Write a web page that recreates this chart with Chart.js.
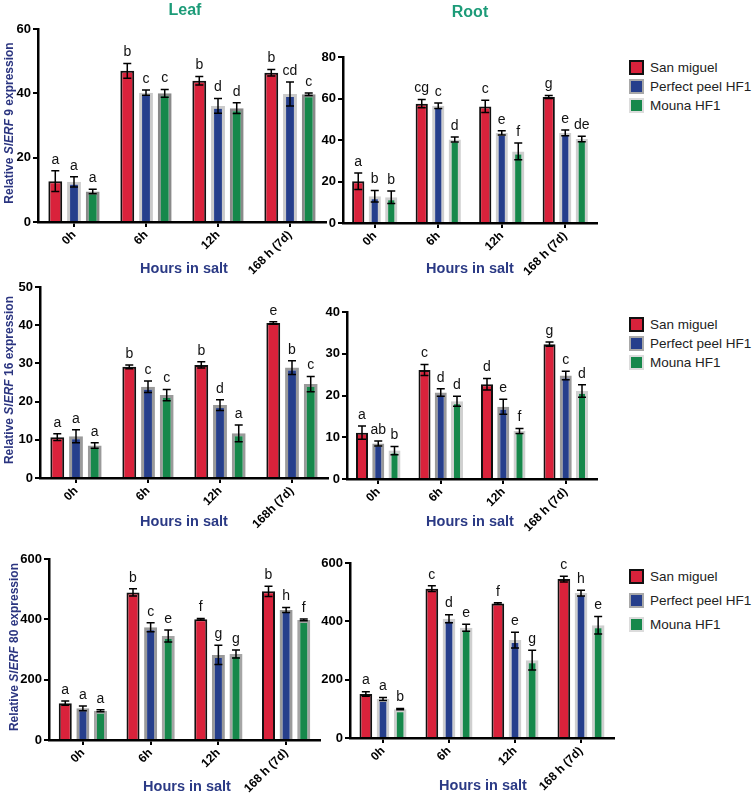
<!DOCTYPE html>
<html>
<head>
<meta charset="utf-8">
<script src="https://cdn.jsdelivr.net/npm/chart.js@4"></script>
<style>
  body { margin: 0; background: #fff; }
  #fig { position: relative; width: 755px; height: 794px; overflow: hidden; font-family: "Liberation Sans", Arial, sans-serif; }
  canvas { position: absolute; }
  .lbl { position: absolute; white-space: nowrap; transform: translate(-50%, -50%); }
  .head { color: #1c9b78; font-weight: bold; font-size: 16px; }
  .xt { color: #2b3a85; font-weight: bold; font-size: 14.5px; }
  .yt { color: #2b3580; font-weight: bold; font-size: 12px; transform: translate(-50%, -50%) rotate(-90deg); }
  .leg { position: absolute; font-size: 13.5px; color: #222; white-space: nowrap; width: 130px; }
  .leg div { display: flex; align-items: center; }
  .leg span.sw { width: 11px; height: 11px; border: 2px solid; margin-right: 6px; display: inline-block; flex: none; }
</style>
</head>
<body>
<div id="fig"></div>
<script>
// categories
const hours = ['0h', '6h', '12h', '168 h (7d)'];
const hoursB = ['0h', '6h', '12h', '168h (7d)'];
const cultivars = ['San miguel', 'Perfect peel HF1', 'Mouna HF1'];
const fills = ['#d9223b', '#263f8c', '#16884b'];

// SlERF 9, leaf  (rows: San miguel, Perfect peel HF1, Mouna HF1)
const erf9Leaf = [[12.7, 47.0, 43.9, 46.4], [12.5, 40.2, 36.1, 39.8], [9.5, 40.0, 35.4, 39.7]];
const erf9LeafErr = [[3.2, 2.3, 1.3, 1.0], [1.6, 0.8, 2.3, 3.7], [0.7, 1.2, 1.7, 0.4]];
const erf9LeafLet = [['a', 'b', 'b', 'b'], ['a', 'c', 'd', 'cd'], ['a', 'c', 'd', 'c']];

// SlERF 9, root
const erf9Root = [[20.1, 57.5, 56.2, 60.7], [12.9, 56.5, 43.4, 43.4], [12.4, 40.2, 34.5, 40.5]];
const erf9RootErr = [[4.0, 2.0, 3.0, 0.7], [2.8, 1.3, 1.0, 1.4], [3.0, 1.2, 4.0, 1.3]];
const erf9RootLet = [['a', 'cg', 'c', 'g'], ['b', 'c', 'e', 'e'], ['b', 'd', 'f', 'de']];

// SlERF 16, leaf
const erf16Leaf = [[10.7, 29.1, 29.6, 40.6], [10.9, 23.9, 19.1, 28.9], [8.5, 21.7, 11.7, 24.6]];
const erf16LeafErr = [[0.9, 0.5, 0.8, 0.3], [1.7, 1.5, 1.4, 1.8], [0.7, 1.5, 2.2, 2.0]];
const erf16LeafLet = [['a', 'b', 'b', 'e'], ['a', 'c', 'd', 'b'], ['a', 'c', 'a', 'c']];

// SlERF 16, root
const erf16Root = [[11.1, 26.1, 22.7, 32.3], [8.5, 20.7, 17.3, 24.8], [6.8, 18.6, 11.5, 21.1]];
const erf16RootErr = [[1.6, 1.3, 1.4, 0.5], [0.6, 0.9, 1.8, 1.0], [1.0, 1.2, 0.6, 1.5]];
const erf16RootLet = [['a', 'c', 'd', 'g'], ['ab', 'd', 'e', 'c'], ['b', 'd', 'f', 'd']];

// SlERF 80, leaf
const erf80Leaf = [[122, 489, 400, 493], [105, 374, 282, 431], [97, 345, 285, 398]];
const erf80LeafErr = [[7, 12, 3, 17], [8, 15, 32, 8], [3, 20, 13, 3]];
const erf80LeafLet = [['a', 'b', 'f', 'b'], ['a', 'c', 'g', 'h'], ['a', 'e', 'g', 'f']];

// SlERF 80, root
const erf80Root = [[151, 512, 461, 545], [134, 409, 336, 497], [99, 378, 267, 387]];
const erf80RootErr = [[8, 10, 3, 10], [5, 14, 27, 10], [2, 12, 34, 30]];
const erf80RootLet = [['a', 'c', 'f', 'c'], ['a', 'd', 'e', 'h'], ['b', 'e', 'g', 'e']];

const panels = [
  { area: [38, 29, 326, 222], max: 60, step: 20, labels: hours, vals: erf9Leaf, errs: erf9LeafErr, lets: erf9LeafLet, edge: ['#111', '#cacaca', '#8a8a8a'] },
  { area: [343, 57, 597, 223], max: 80, step: 20, labels: hours, vals: erf9Root, errs: erf9RootErr, lets: erf9RootLet, edge: ['#111', '#cfcfcf', '#cfcfcf'] },
  { area: [40, 287, 328, 478], max: 50, step: 10, labels: hoursB, vals: erf16Leaf, errs: erf16LeafErr, lets: erf16LeafLet, edge: ['#111', '#9a9a9a', '#9a9a9a'] },
  { area: [347, 312, 597, 479], max: 40, step: 10, labels: hours, vals: erf16Root, errs: erf16RootErr, lets: erf16RootLet, edge: ['#111', '#9a9a9a', '#d0d0d0'] },
  { area: [49, 559, 320, 740], max: 600, step: 200, labels: hours, vals: erf80Leaf, errs: erf80LeafErr, lets: erf80LeafLet, edge: ['#111', '#9a9a9a', '#a5a5a5'] },
  { area: [350, 563, 614, 738], max: 600, step: 200, labels: hours, vals: erf80Root, errs: erf80RootErr, lets: erf80RootLet, edge: ['#111', '#cfcfcf', '#cfcfcf'] },
];

const YW = 40, PT = 12, PR = 8, XH = 60;

// error bars + significance letters
const errorBars = {
  id: 'errorBars',
  afterDatasetsDraw(chart) {
    const ctx = chart.ctx;
    const y = chart.scales.y;
    ctx.save();
    chart.data.datasets.forEach((ds, i) => {
      chart.getDatasetMeta(i).data.forEach((bar, j) => {
        const v = ds.data[j], e = ds.errors[j];
        const top = y.getPixelForValue(v + e), bot = y.getPixelForValue(v - e);
        ctx.strokeStyle = '#000';
        ctx.lineWidth = 1.5;
        ctx.beginPath();
        ctx.moveTo(bar.x, bot); ctx.lineTo(bar.x, top);
        ctx.moveTo(bar.x - 4, top); ctx.lineTo(bar.x + 4, top);
        ctx.moveTo(bar.x - 4, bot); ctx.lineTo(bar.x + 4, bot);
        ctx.stroke();
        ctx.fillStyle = '#111';
        ctx.font = '14px "Liberation Sans", Arial, sans-serif';
        ctx.textAlign = 'center';
        ctx.textBaseline = 'bottom';
        ctx.fillText(ds.letters[j], bar.x, top - 4);
      });
    });
    ctx.restore();
  }
};

const fig = document.getElementById('fig');

panels.forEach(p => {
  const [l, t, r, b] = p.area;
  const cv = document.createElement('canvas');
  const w = r - l + YW + PR, h = b - t + PT + XH;
  cv.width = w; cv.height = h;
  cv.style.left = (l - YW) + 'px';
  cv.style.top = (t - PT) + 'px';
  cv.style.width = w + 'px'; cv.style.height = h + 'px';
  fig.appendChild(cv);

  new Chart(cv, {
    type: 'bar',
    data: {
      labels: p.labels,
      datasets: cultivars.map((name, k) => ({
        label: name,
        data: p.vals[k],
        errors: p.errs[k],
        letters: p.lets[k],
        backgroundColor: fills[k],
        borderColor: p.edge[k],
        borderWidth: k === 0 ? 2 : 3,
        categoryPercentage: 0.78,
        barPercentage: 0.74,
      })),
    },
    options: {
      responsive: false,
      animation: false,
      devicePixelRatio: 1,
      layout: { padding: { top: PT, right: PR, left: 0, bottom: 0 } },
      plugins: { legend: { display: false }, tooltip: { enabled: false } },
      scales: {
        x: {
          border: { color: '#000', width: 2.5 },
          grid: { offset: false, drawOnChartArea: false, tickLength: 5, color: '#000', lineWidth: 2 },
          ticks: { minRotation: 45, maxRotation: 45, color: '#000', padding: 1, font: { family: '"Liberation Sans", Arial', weight: 'bold', size: 12 } },
          afterFit: s => { s.height = XH; },
        },
        y: {
          min: 0,
          max: p.max,
          border: { color: '#000', width: 2.5 },
          grid: { drawOnChartArea: false, tickLength: 5, color: '#000', lineWidth: 2 },
          ticks: { stepSize: p.step, color: '#000', padding: 2, font: { family: '"Liberation Sans", Arial', weight: 'bold', size: 13 } },
          afterFit: s => { s.width = YW; },
        },
      },
    },
    plugins: [errorBars],
  });
});

// titles
function label(cls, x, y, html) {
  const d = document.createElement('div');
  d.className = 'lbl ' + cls;
  d.style.left = x + 'px';
  d.style.top = y + 'px';
  d.innerHTML = html;
  fig.appendChild(d);
}
label('head', 185, 10, 'Leaf');
label('head', 470, 12, 'Root');
[[184, 268], [470, 268], [184, 521], [470, 521], [187, 786], [483, 785]].forEach(([x, y]) => label('xt', x, y, 'Hours in salt'));
label('yt', 9, 123, 'Relative <i>SlERF</i> 9 expression');
label('yt', 9, 380, 'Relative <i>SlERF</i> 16 expression');
label('yt', 14, 647, 'Relative <i>SlERF</i> 80 expression');

// legends
const swatchEdge = ['#111', '#a8a8a8', '#dcdcdc'];
[[629, 58, 19], [629, 315, 19], [629, 564, 24]].forEach(([x, y, rowH]) => {
  const lg = document.createElement('div');
  lg.className = 'leg';
  lg.style.left = x + 'px';
  lg.style.top = y + 'px';
  cultivars.forEach((name, k) => {
    const row = document.createElement('div');
    row.style.height = rowH + 'px';
    row.innerHTML = '<span class="sw" style="background:' + fills[k] + ';border-color:' + swatchEdge[k] + '"></span>' + name;
    lg.appendChild(row);
  });
  fig.appendChild(lg);
});
</script>
</body>
</html>
